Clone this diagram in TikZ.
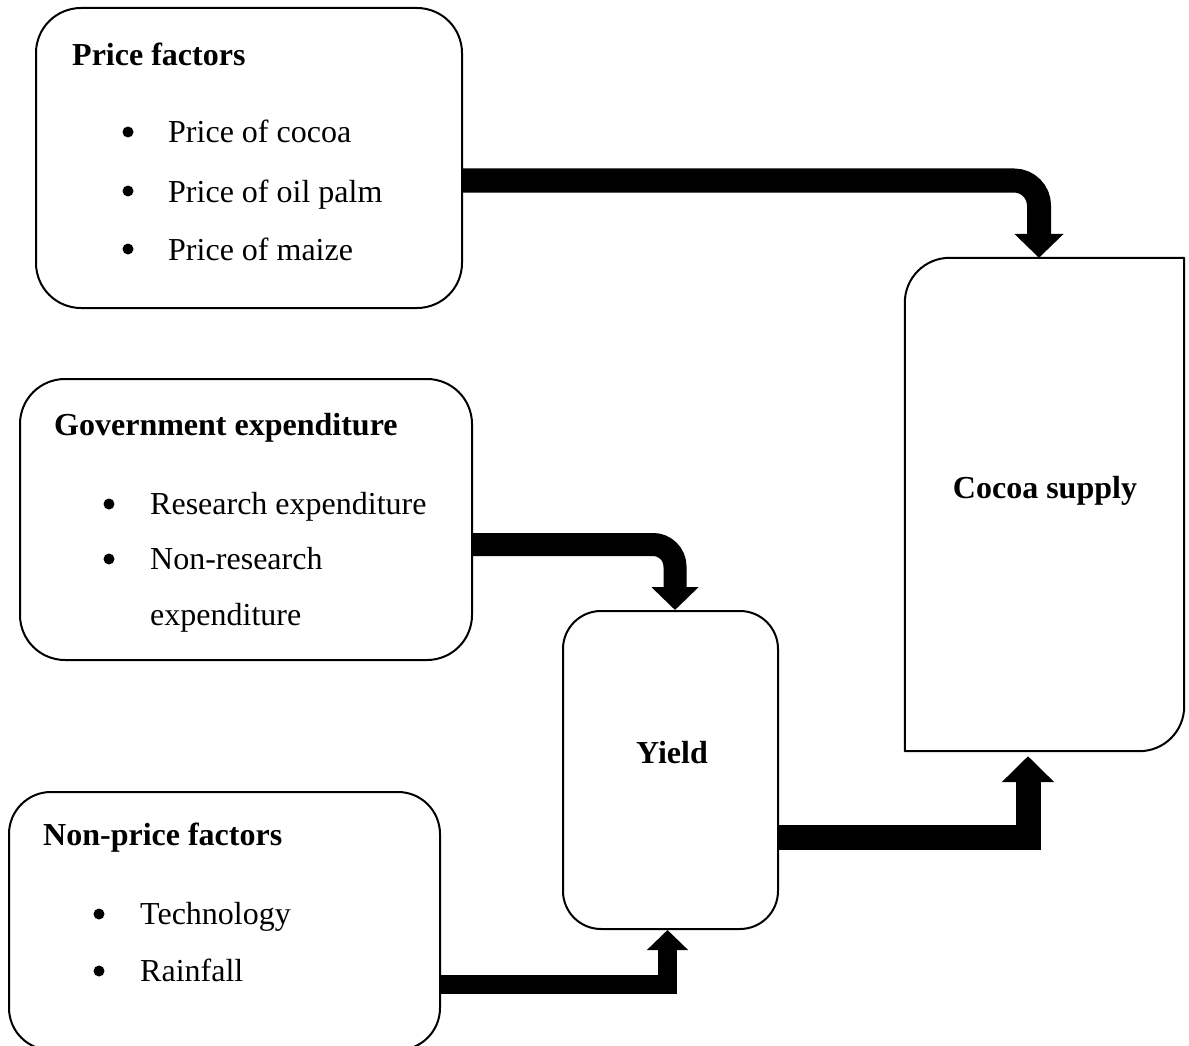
\documentclass[tikz,border=0pt]{standalone}
\usepackage{fontspec}
\setmainfont{Liberation Serif}
\usetikzlibrary{arrows.meta}
\begin{document}
\begin{tikzpicture}[x=1pt,y=-1pt,
  box/.style={draw, line width=2pt, rounded corners=#1, inner sep=0pt},
  frame/.style={inner sep=0pt},
  heading/.style={anchor=base west, inner sep=0pt, font=\fontsize{32}{38}\selectfont\bfseries},
  title/.style={anchor=base, inner sep=0pt, font=\fontsize{32}{38}\selectfont\bfseries},
  item/.style={anchor=base west, inner sep=0pt, font=\fontsize{32}{38}\selectfont},
  dot/.style={circle, fill=black, inner sep=0pt, minimum size=11pt},
  flow/.style n args={3}{line width=#1, line cap=butt, -{Triangle[width=#2, length=#3]}}
]
\useasboundingbox (0,0) rectangle (1189,1046);
\clip (0,0) rectangle (1189,1046);

% boxes
\node[box=45pt, minimum width=426pt, minimum height=300pt] (price) at (249,158) {};
\node[box=45pt, minimum width=452pt, minimum height=281pt] (gov) at (246,519.5) {};
\node[box=42pt, minimum width=431pt, minimum height=258pt] (nonprice) at (224.5,921) {};
\node[box=38pt, minimum width=215pt, minimum height=318pt] (yield) at (670.5,770) {};
\node[frame, minimum width=279pt, minimum height=493pt] (supply) at (1044.5,504.5) {};
\draw[line width=2pt, line join=round]
  (supply.south west) -- ([yshift=-45pt]supply.north west)
  .. controls ([yshift=-20pt]supply.north west) and ([xshift=20pt]supply.north west) ..
  ([xshift=45pt]supply.north west) -- (supply.north east) -- ([yshift=45pt]supply.south east)
  .. controls ([yshift=20pt]supply.south east) and ([xshift=-20pt]supply.south east) ..
  ([xshift=-45pt]supply.south east) -- cycle;

% texts
\node[heading] (pt) at (72,66) {Price factors};
\node[dot] (pd1) at (128,132) {};
\node[item] (p1) at (168,143) {Price of cocoa};
\node[dot] (pd2) at (128,191) {};
\node[item] (p2) at (168,202) {Price of oil palm};
\node[dot] (pd3) at (128,249) {};
\node[item] (p3) at (168,260) {Price of maize};

\node[heading] (gt) at (54,435) {Government expenditure};
\node[dot] (gd1) at (109,504) {};
\node[item] (g1) at (150,514) {Research expenditure};
\node[dot] (gd2) at (109,559) {};
\node[item] (g2) at (150,569) {Non-research};
\node[item] (g3) at (150,625) {expenditure};

\node[heading] (nt) at (43,845) {Non-price factors};
\node[dot] (nd1) at (99,914) {};
\node[item] (n1) at (140,924) {Technology};
\node[dot] (nd2) at (99,971) {};
\node[item] (n2) at (140,981) {Rainfall};

\node[title] (yt) at (672,763) {Yield};
\node[title] (st) at (1045,498) {Cocoa supply};

% connectors
\draw[flow={24pt}{48pt}{24pt}, rounded corners=25pt]
  ([yshift=-22.5pt]price.east) -| ([xshift=-5.5pt]supply.north);
\draw[flow={23pt}{46pt}{23pt}, rounded corners=22pt]
  ([yshift=-25pt]gov.east) -| ([xshift=4.5pt]yield.north);
\draw[flow={19pt}{40pt}{20pt}]
  ([yshift=-63pt]nonprice.east) -| ([xshift=-3pt]yield.south);
\draw[flow={25pt}{51pt}{26pt}, shorten >=5pt]
  ([yshift=-67.5pt]yield.east) -| ([xshift=-16.5pt]supply.south);
\end{tikzpicture}
\end{document}
